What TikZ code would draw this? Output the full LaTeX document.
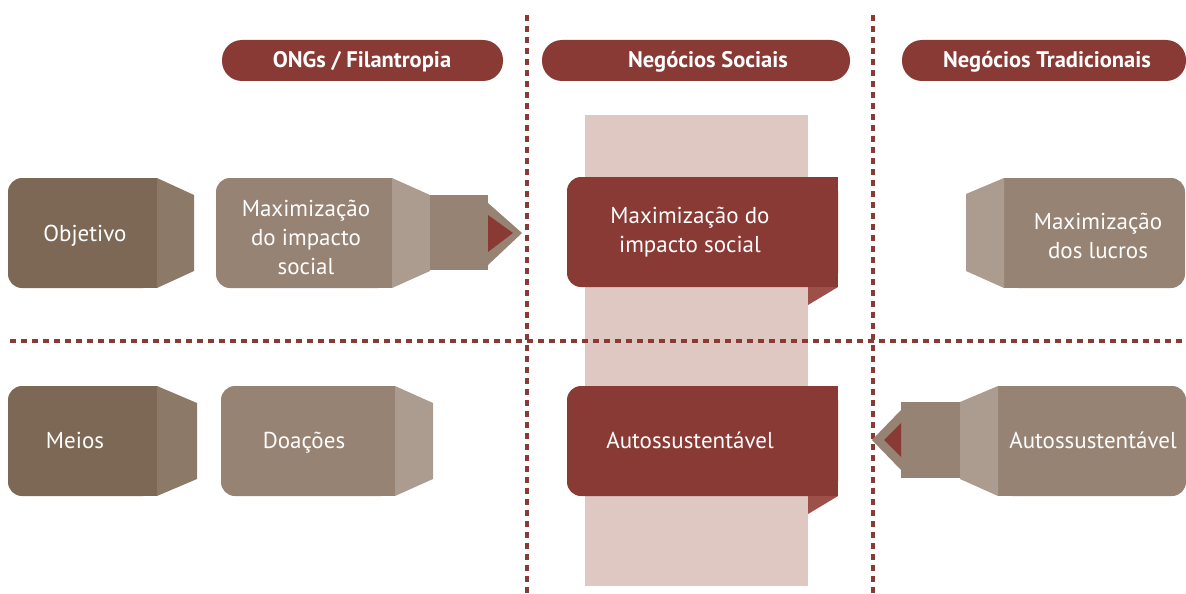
\documentclass[tikz,border=0pt]{standalone}
\usepackage{fontspec}
\setmainfont{PT Sans}

\definecolor{redbox}{HTML}{893A35}
\definecolor{redfold}{HTML}{9D5049}
\definecolor{pinkband}{HTML}{DFC8C2}
\definecolor{darkbox}{HTML}{7D6856}
\definecolor{darkside}{HTML}{8C7967}
\definecolor{midbox}{HTML}{968373}
\definecolor{midside}{HTML}{AC9C8F}

\begin{document}
\begin{tikzpicture}[x=1pt, y=-1pt,
		lbl/.style={text=white, font=\fontsize{23}{29}\selectfont, align=center},
		head/.style={text=white, font=\fontsize{22.5}{26}\selectfont\bfseries},
		divider/.style={draw=redbox, line width=4pt, dash pattern=on 6pt off 5pt}]

			\useasboundingbox (0,0) rectangle (1186,594);

			% Column of the social business
			\fill[pinkband] (585,115) rectangle (808,586);

			% Dotted dividers
			\draw[divider] (527,15) -- (527,594);
			\draw[divider] (873,15) -- (873,594);
			\draw[divider] (10,341) -- (1186,341);

			% Column headers
			\foreach \name/\l/\r/\x/\txt in {
					ong/222/503/362/{ONGs / Filantropia},
					soc/542/850/708/Negócios Sociais,
					trad/902/1186/1047/Negócios Tradicionais
				} {
					\fill[redbox, rounded corners=20pt] (\l,40) rectangle (\r,81);
					\node[head] (\name) at (\x,62) {\txt};
				}

			% Boxes pointing to the right
			\foreach \c/\s/\l/\r/\t/\y in {
					darkbox/darkside/8/157/194/178,
					midbox/midside/216/392/430/178,
					darkbox/darkside/8/157/197/386,
					midbox/midside/221/395/433/386
				} {
					\fill[\c, rounded corners=14pt] (\l,\y) rectangle (\r,\y+110);
					\fill[\c] (\r-20,\y) rectangle (\r,\y+110);
					\fill[\s] (\r,\y) -- (\t,\y+17) -- (\t,\y+93) -- (\r,\y+110) -- cycle;
				}

			% Pointer from the NGO goal
			\fill[midbox] (430,195) rectangle (488,270);
			\fill[midbox] (488,203) -- (522,233) -- (488,265) -- cycle;
			\fill[redbox] (488,215) -- (513,233) -- (488,252) -- cycle;

			% Social business boxes with folded corner
			\foreach \y in {177,386} {
					\fill[redbox, rounded corners=14pt] (567,\y) rectangle (838,\y+110);
					\fill[redbox] (800,\y) rectangle (838,\y+110);
					\fill[redfold] (808,\y+110) -- (838,\y+110) -- (808,\y+128) -- cycle;
				}

			% Boxes pointing to the left
			\foreach \l/\r/\t/\y in {
					1004/1185/966/178,
					998/1186/960/386
				} {
					\fill[midbox, rounded corners=14pt] (\l,\y) rectangle (\r,\y+110);
					\fill[midbox] (\l,\y) rectangle (\l+20,\y+110);
					\fill[midside] (\l,\y) -- (\t,\y+16) -- (\t,\y+93) -- (\l,\y+110) -- cycle;
				}

			% Pointer from the traditional means
			\fill[midbox] (901,402) rectangle (960,478);
			\fill[midbox] (901,410) -- (872,440) -- (901,470) -- cycle;
			\fill[redbox] (901,423) -- (884,440) -- (901,457) -- cycle;

			% Labels
			\node[lbl] (objetivo) at (85,236) {Objetivo};
			\node[lbl] (ongobj) at (306,237) {Maximização\\do impacto\\social};
			\node[lbl] (socobj) at (690,232) {Maximização do\\impacto social};
			\node[lbl] (tradobj) at (1098,236) {Maximização\\dos lucros};
			\node[lbl] (meios) at (75,440) {Meios};
			\node[lbl] (doacoes) at (304,443) {Doações};
			\node[lbl] (socmeio) at (690,440) {Autossustentável};
			\node[lbl] (tradmeio) at (1093,440) {Autossustentável};

		\end{tikzpicture}
\end{document}
